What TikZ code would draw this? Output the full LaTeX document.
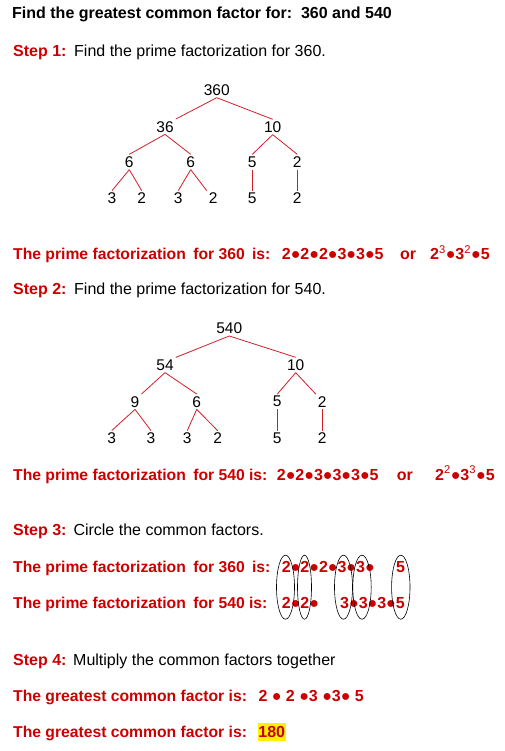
\documentclass[tikz,border=0pt]{standalone}
\usepackage{fontspec}
\setmainfont{Liberation Sans}
\usetikzlibrary{positioning}

\definecolor{stepred}{RGB}{204,0,0}
\definecolor{branchred}{RGB}{210,30,40}
\newcommand{\bul}{●}
\newcommand{\gap}{\ \hspace{3pt}}

\begin{document}
\begin{tikzpicture}[
    x=1pt, y=-1pt,
    % Estilo para los textos
    plain/.style={
        anchor=base west,
        inner sep=0pt,
        font=\fontsize{16}{19}\selectfont
    },
    % Estilo para los textos en rojo
    redtext/.style={
        plain,
        text=stepred,
        font=\fontsize{16}{19}\selectfont\bfseries
    },
    % Estilo para las frases largas en rojo
    redlong/.style={
        redtext,
        font=\fontsize{15.7}{19}\selectfont\bfseries
    },
    % Estilo para los numeros del arbol
    factor/.style={
        inner sep=2pt,
        font=\fontsize{15.5}{18}\selectfont
    },
    % Estilo para las ramas
    branch/.style={
        draw=branchred,
        line width=0.8pt
    },
    % Estilo para los circulos
    ring/.style={
        draw=black,
        line width=0.6pt
    }
]
    \useasboundingbox (0,0) rectangle (504,751);

    % ==========================================
    % TITULO Y PASO 1
    % ==========================================
    \node[plain, font=\fontsize{16}{19}\selectfont\bfseries] (title) at (12,19)
        {Find the greatest common factor for:\ \ 360 and 540};
    \node[redtext] (step1) at (13,57) {Step 1:};
    \node[plain] (step1txt) at (74,57) {Find the prime factorization for 360.};

    % ==========================================
    % ARBOL DE 360
    % ==========================================
    \node[factor] (f360) at (216.7,90) {360};
    \node[factor] (f36) at (165,126.7) {36};
    \node[factor] (f10) at (272.7,127) {10};
    \node[factor] (f6l) at (129.3,162) {6};
    \node[factor] (f6r) at (190.7,162) {6};
    \node[factor] (f5) at (252.3,162) {5};
    \node[factor] (f2) at (297.3,162) {2};
    \node[factor] (f3a) at (112,198.3) {3};
    \node[factor] (f2a) at (141.7,198.3) {2};
    \node[factor] (f3b) at (178.3,198.3) {3};
    \node[factor] (f2b) at (213.3,198.3) {2};
    \node[factor] (f5b) at (252.3,198.3) {5};
    \node[factor] (f2c) at (297.3,198.3) {2};

    % Ramas del arbol
    \draw[branch] (f360.south) -- (f36.north east);
    \draw[branch] (f360.south) -- (f10.north);
    \draw[branch] (f36.south) -- (f6l.north);
    \draw[branch] (f36.south) -- (f6r.north);
    \draw[branch] (f10.south) -- (f5.north);
    \draw[branch] (f10.south) -- (f2.north);
    \draw[branch] (f6l.south) -- (f3a.north);
    \draw[branch] (f6l.south) -- (f2a.north);
    \draw[branch] (f6r.south) -- (f3b.north);
    \draw[branch] (f6r.south) -- (f2b.north west);
    \draw[branch] (f5.south) -- (f5b.north);
    \draw[branch] (f2.south) -- (f2c.north);

    \node[redlong] (pf360) at (13,259.5) {The prime factorization\gap for 360\gap is:};
    \node[redtext] (pf360a) at (281.7,259.5) {2\bul2\bul2\bul3\bul3\bul5};
    \node[redtext] (or360) at (400,259.5) {or};
    \node[redtext] (pf360b) at (430,259.5)
        {2\textsuperscript{\mdseries 3}\bul3\textsuperscript{\mdseries 2}\bul5};

    % ==========================================
    % PASO 2 Y ARBOL DE 540
    % ==========================================
    \node[redtext] (step2) at (13,294.7) {Step 2:};
    \node[plain] (step2txt) at (74,294.7) {Find the prime factorization for 540.};

    \node[factor] (g540) at (229.3,328.3) {540};
    \node[factor] (g54) at (165,365) {54};
    \node[factor] (g10) at (295.7,365) {10};
    \node[factor] (g9) at (135,401.7) {9};
    \node[factor] (g6) at (196.7,401.7) {6};
    \node[factor] (g5) at (277.3,401.7) {5};
    \node[factor] (g2) at (322.3,401.7) {2};
    \node[factor] (g3a) at (111.7,438.3) {3};
    \node[factor] (g3b) at (151,438.3) {3};
    \node[factor] (g3c) at (187.3,438.3) {3};
    \node[factor] (g2a) at (217.7,438.3) {2};
    \node[factor] (g5b) at (277.3,438.3) {5};
    \node[factor] (g2b) at (322.3,438.3) {2};

    % Ramas del arbol
    \draw[branch] (g540.south) -- (g54.north east);
    \draw[branch] (g540.south) -- (g10.north);
    \draw[branch] (g54.south) -- (g9.north east);
    \draw[branch] (g54.south) -- (g6.north);
    \draw[branch] (g10.south) -- (g5.north);
    \draw[branch] (g10.south) -- (g2.north west);
    \draw[branch] (g9.south) -- (g3a.north);
    \draw[branch] (g9.south) -- (g3b.north);
    \draw[branch] (g6.south) -- (g3c.north);
    \draw[branch] (g6.south) -- (g2a.north);
    \draw[branch] (g5.south) -- (g5b.north);
    \draw[branch] (g2.south) -- (g2b.north);

    \node[redlong] (pf540) at (13,480) {The prime factorization\gap for 540 is:};
    \node[redtext] (pf540a) at (276.7,480) {2\bul2\bul3\bul3\bul3\bul5};
    \node[redtext] (or540) at (396.7,480) {or};
    \node[redtext] (pf540b) at (435,480)
        {2\textsuperscript{\mdseries 2}\bul3\textsuperscript{\mdseries 3}\bul5};

    % ==========================================
    % PASO 3: FACTORES COMUNES
    % ==========================================
    \node[redtext] (step3) at (13,535) {Step 3:};
    \node[plain] (step3txt) at (73.3,535) {Circle the common factors.};

    \node[redlong] (cf360) at (13,572.3) {The prime factorization\gap for 360\gap is:};
    \node[redtext] (cf360a) at (281.7,572.3) {2\bul2\bul2\bul3\bul3\bul};
    \node[redtext] (cf360b) at (396,572.3) {5};
    \node[redlong] (cf540) at (13,608.3) {The prime factorization\gap for 540 is:};
    \node[redtext] (cf540a) at (281.7,608.3) {2\bul2\bul};
    \node[redtext] (cf540b) at (340,608.3) {3\bul3\bul3\bul5};

    % Circulos alrededor de los factores comunes
    \foreach \cx/\rx in {285.5/9, 304.5/7, 343.5/9, 362/9.2, 400.8/9.2}
        \draw[ring] (\cx,587.2) ellipse [x radius=\rx, y radius=32];

    % ==========================================
    % PASO 4: RESULTADO
    % ==========================================
    \node[redtext] (step4) at (13,665) {Step 4:};
    \node[plain] (step4txt) at (73,665) {Multiply the common factors together};

    \node[redlong] (gcf1) at (13,701) {The greatest common factor is:};
    \node[redtext] (gcf1a) at (258.3,701) {2 \bul\ 2 \bul3 \bul3\bul\ 5};
    \node[redlong] (gcf2) at (13,737.3) {The greatest common factor is:};
    \node[redtext, fill=yellow, inner xsep=0.5pt, inner ysep=3.3pt] (answer) at (257.7,737.3) {180};

\end{tikzpicture}
\end{document}
